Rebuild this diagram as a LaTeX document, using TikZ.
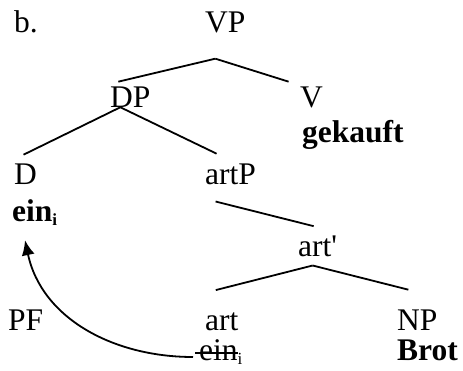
\documentclass[tikz,border=0pt]{standalone}
\usepackage{fontspec}
\setmainfont{Liberation Serif}
\usepackage{tikz}
\usetikzlibrary{arrows.meta, calc}
\newcommand{\lowi}{\raisebox{-4pt}{\fontsize{17}{17}\selectfont i}}
\newcommand{\strk}[1]{\setbox0\hbox{#1}\kern-4pt\rlap{\rule[6.5pt]{\dimexpr\wd0+4pt\relax}{1.6pt}}\kern4pt\box0}

\begin{document}
\begin{tikzpicture}[x=1pt, y=-1pt,
  cat/.style={anchor=base west, inner sep=0pt, font=\fontsize{31.5}{37}\selectfont},
  word/.style={cat, font=\fontsize{31.5}{37}\selectfont\bfseries},
  branch/.style={line width=1.8pt},
  move/.style={-{Latex[length=15pt,width=13pt]}, line width=1.8pt}
]
\useasboundingbox (0,0) rectangle (463,371);

\node[cat]  (ex)    at (14,33)  {b.};
\node[cat]  (VP)    at (205,33) {VP};
\node[cat]  (DP)    at (110,108) {DP};
\node[cat]  (V)     at (300,108) {V};
\node[word] (gek)   at (302,143) {gekauft};
\node[cat]  (D)     at (14,185) {D};
\node[cat]  (artP)  at (205,185) {artP};
\node[word] (ein)   at (12,222) {ein\lowi};
\node[cat]  (artb)  at (298,257) {art\textquotesingle};
\node[cat]  (PF)    at (8,330)  {PF};
\node[cat]  (art)   at (205,330) {art};
\node[cat]  (NP)    at (397,330) {NP};
\node[cat]  (einT)  at (199,360) {\strk{ein}\lowi};
\node[word] (Brot)  at (397,360) {Brot};

% Branches
\draw[branch] ($(VP.south)+(-10,25)$) -- ($(DP.north)+(-12,-5.5)$);
\draw[branch] ($(VP.south)+(-10,25)$) -- ($(V.north)+(-23,-5.5)$);
\draw[branch] ($(DP.south)+(-10,-1)$) -- ($(D.north)+(-2,-9.5)$);
\draw[branch] ($(DP.south)+(-10,-1)$) -- ($(artP.north)+(-14,-10.5)$);
\draw[branch] ($(artP.south)+(-15,16)$) -- ($(artb.north)+(-4,-10)$);
\draw[branch] ($(artb.south)+(-5,8)$) -- ($(art.north)+(-6,-22)$);
\draw[branch] ($(artb.south)+(-5,8)$) -- ($(NP.north)+(-9,-19.5)$);

% Movement
\draw[move] ($(einT.base west)+(-6,-3)$) to[out=180, in=-78] ($(ein.south west)+(13,14)$);

\end{tikzpicture}
\end{document}
